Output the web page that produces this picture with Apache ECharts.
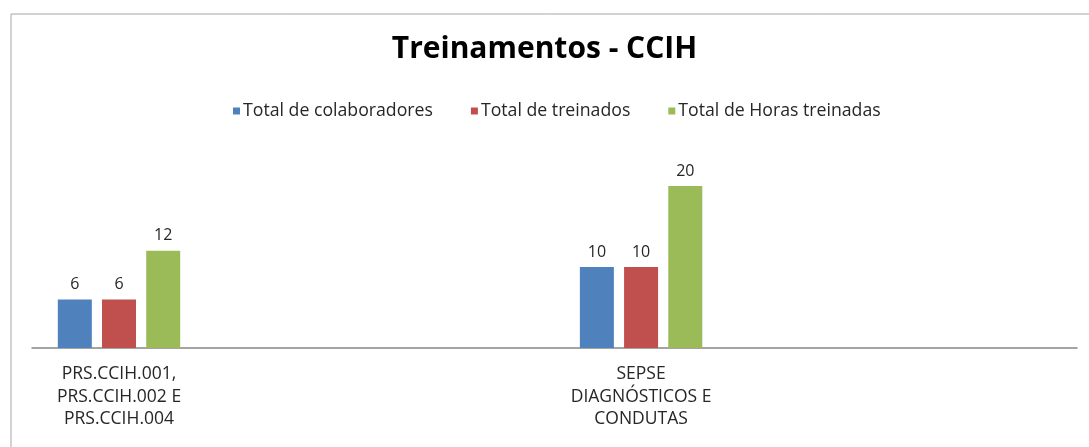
<!DOCTYPE html>
<html>
<head>
<meta charset="utf-8">
<script src="https://cdn.jsdelivr.net/npm/echarts@6/dist/echarts.min.js"></script>
<style>
  html, body { margin: 0; padding: 0; background: #fff; }
  #chart { width: 1089px; height: 447px; }
</style>
</head>
<body>
<div id="chart"></div>
<script>
const categories = ['PRS.CCIH.001,\nPRS.CCIH.002 E\nPRS.CCIH.004', 'SEPSE\nDIAGNÓSTICOS E\nCONDUTAS']
const seriesNames = ['Total de colaboradores', 'Total de treinados', 'Total de Horas treinadas']
const colaboradores = [6, 10]
const treinados = [6, 10]
const horas = [12, 20]

const colors = ['#4F81BD', '#C0504D', '#9BBB59']
const font = '"Open Sans", "Noto Sans", sans-serif'

const toPoints = (values) => values.map((v, i) => [i, v])

const chart = echarts.init(document.getElementById('chart'))

const makeSeries = (name, values, color) => ({
    name: name,
    type: 'bar',
    data: toPoints(values),
    barWidth: 34,
    barGap: '30%',
    itemStyle: { color: color },
    label: {
        show: true,
        position: 'top',
        distance: 7,
        color: '#262626',
        fontSize: 16,
        fontFamily: font
    }
})

const options = {
    backgroundColor: '#fff',
    animation: false,
    title: {
        text: 'Treinamentos - CCIH',
        left: 'center',
        top: 29,
        textStyle: {
            fontFamily: font,
            fontSize: 30,
            fontWeight: 'bold',
            color: '#000'
        }
    },
    legend: {
        top: 97,
        left: 228,
        itemWidth: 7,
        itemHeight: 7,
        itemGap: 38,
        icon: 'rect',
        textStyle: {
            fontFamily: font,
            fontSize: 17.7,
            color: '#262626',
            padding: [0, 0, 0, -2]
        },
        data: seriesNames
    },
    grid: {
        left: 32,
        right: 12,
        top: 145.5,
        bottom: 99
    },
    xAxis: {
        type: 'value',
        min: -1 / 6,
        max: 1.835,
        splitLine: { show: false },
        axisTick: { show: false },
        axisLine: {
            show: true,
            lineStyle: { color: '#868686', width: 1.5 }
        },
        axisLabel: {
            customValues: [0, 1],
            formatter: (v) => categories[Math.round(v)],
            fontFamily: font,
            fontSize: 17.5,
            lineHeight: 22.5,
            color: '#262626',
            margin: 15
        }
    },
    yAxis: {
        type: 'value',
        min: 0,
        max: 25,
        show: false
    },
    graphic: [{
        type: 'rect',
        shape: { x: 11, y: 14, width: 1100, height: 500 },
        style: { fill: 'none', stroke: '#a6a6a6', lineWidth: 1 },
        silent: true
    }],
    series: [
        makeSeries(seriesNames[0], colaboradores, colors[0]),
        makeSeries(seriesNames[1], treinados, colors[1]),
        makeSeries(seriesNames[2], horas, colors[2])
    ]
}

chart.setOption(options)
</script>
</body>
</html>
